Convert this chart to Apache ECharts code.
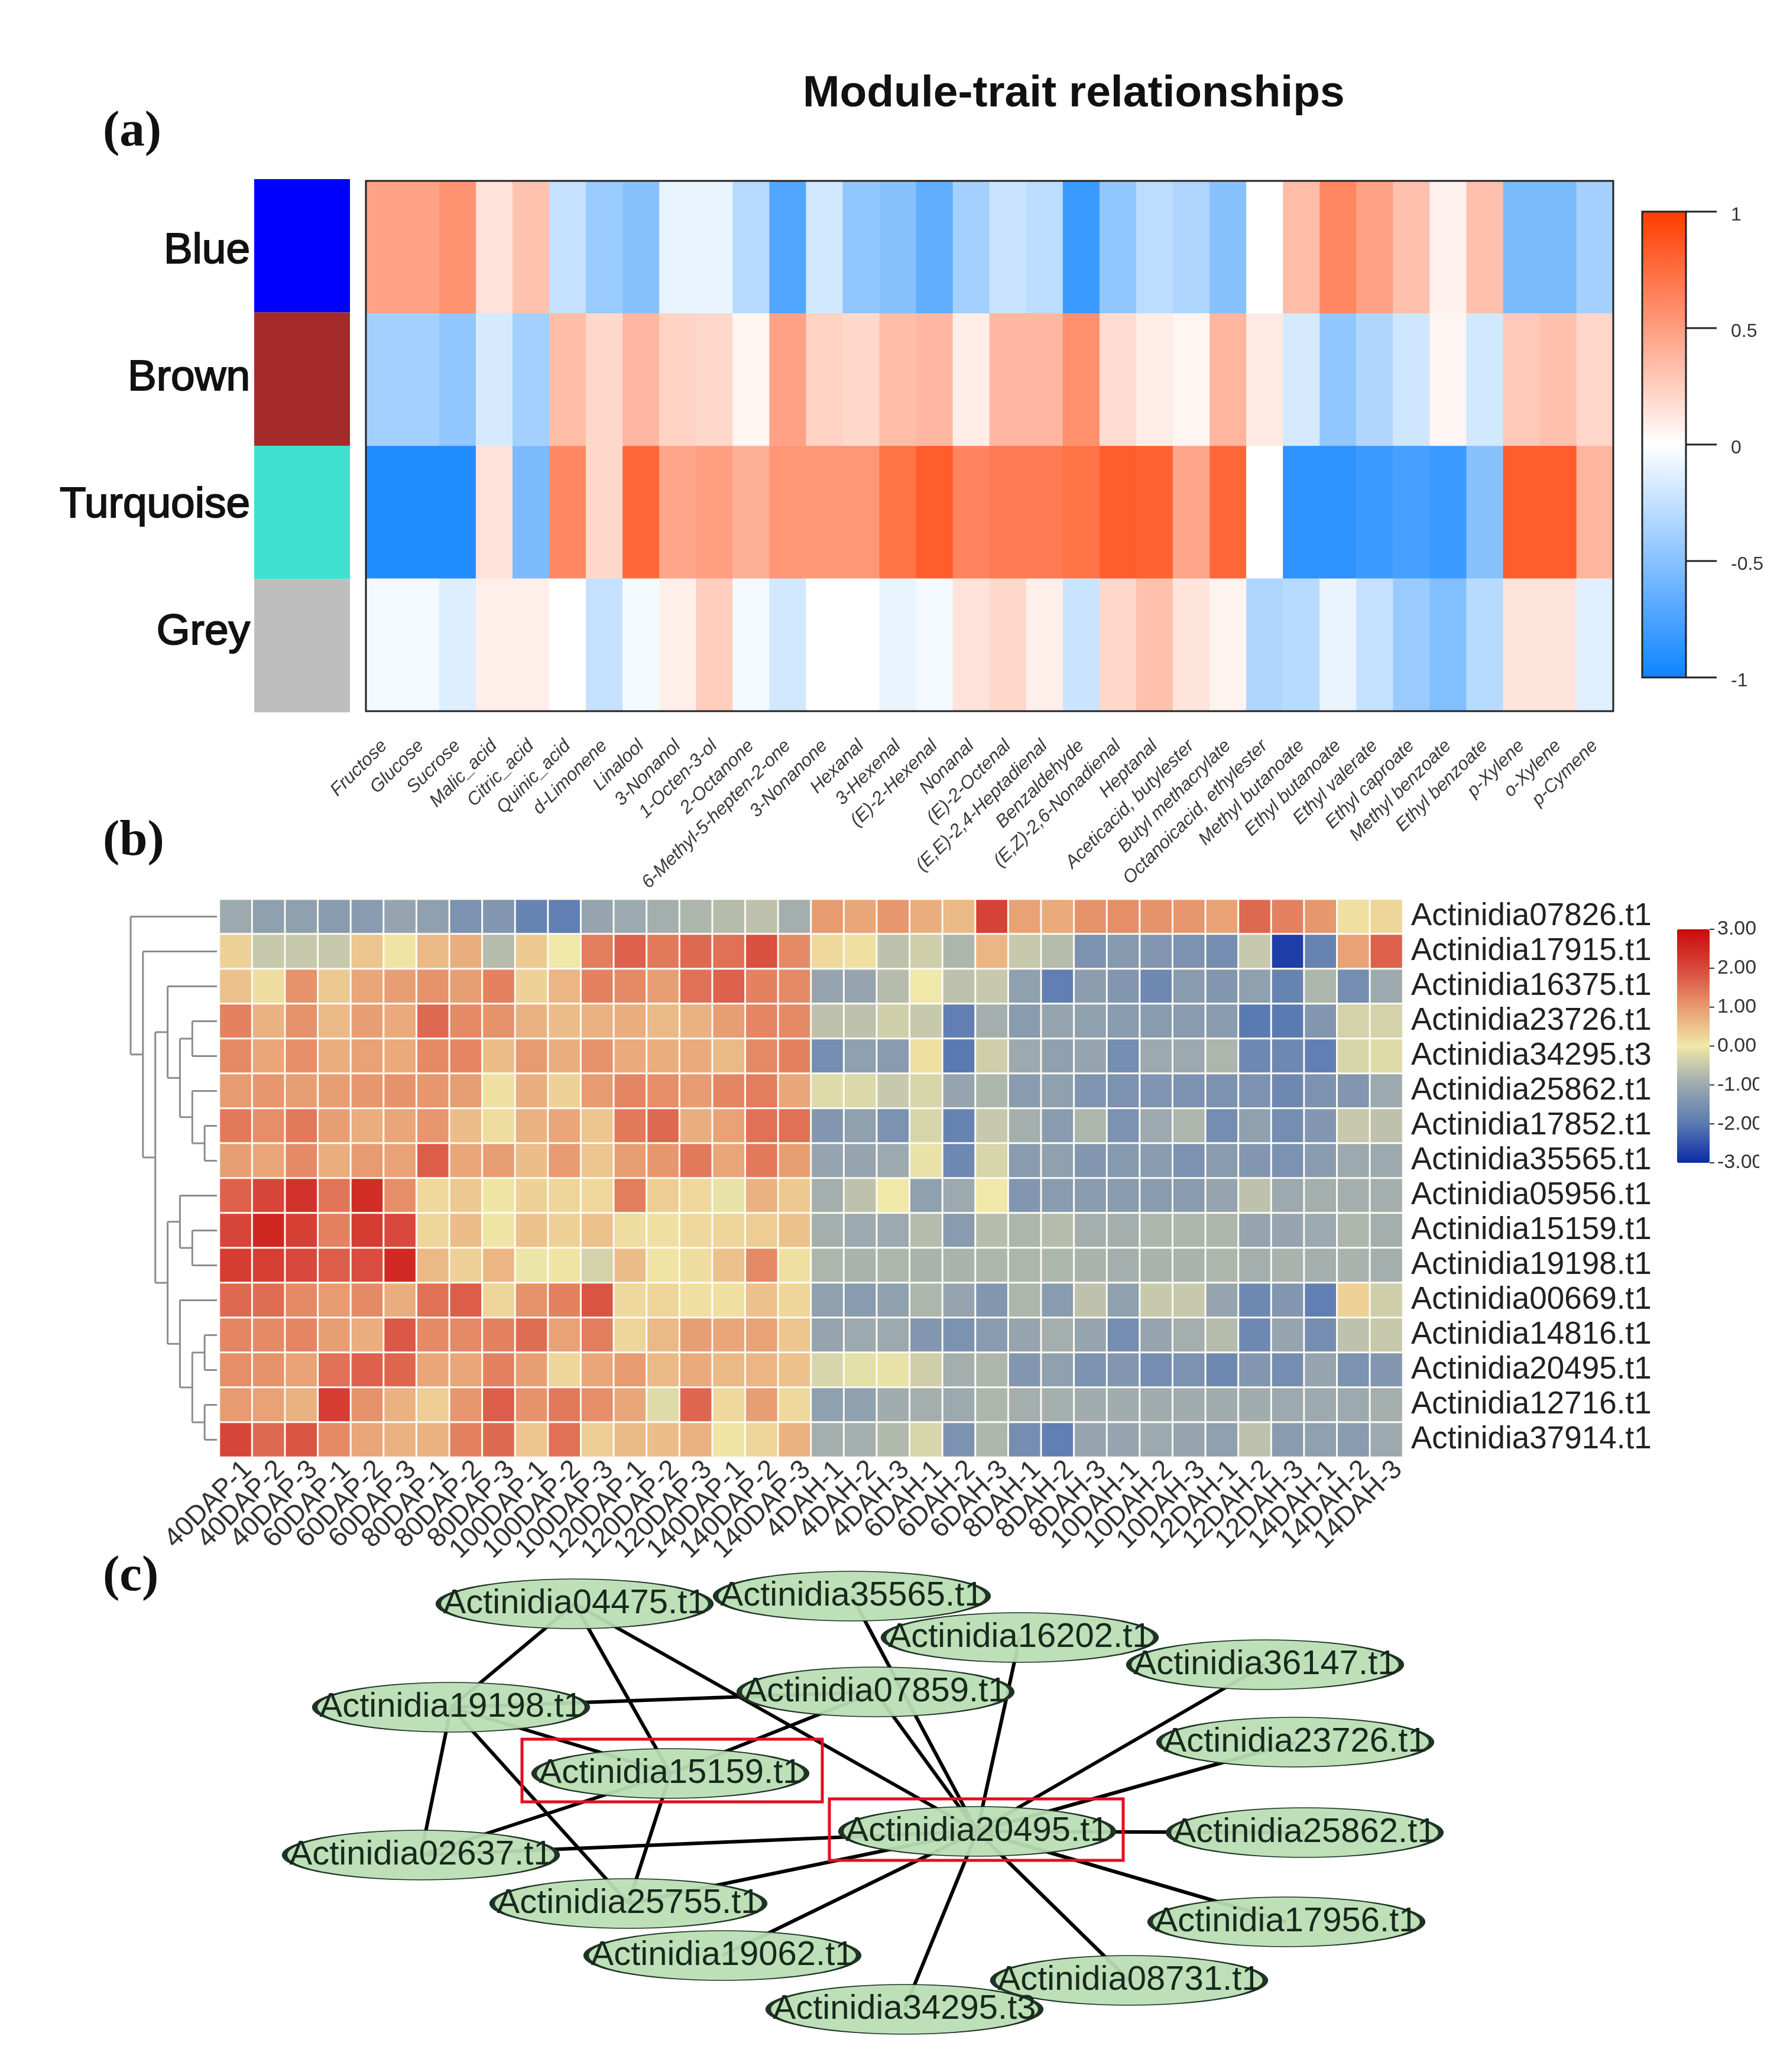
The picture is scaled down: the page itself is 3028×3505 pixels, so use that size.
<!DOCTYPE html>
<html>
<head>
<meta charset="utf-8">
<title>Module-trait relationships</title>
<script src="https://cdn.jsdelivr.net/npm/echarts@6/dist/echarts.min.js"></script>
<style>html,body{margin:0;padding:0;background:#fff}#c{width:3028px;height:3505px}</style>
</head>
<body>
<div id="c"></div>
<script>
// ---------- Panel (a) data ----------
const traits = ["Fructose","Glucose","Sucrose","Malic_acid","Citric_acid","Quinic_acid","d-Limonene","Linalool","3-Nonanol","1-Octen-3-ol","2-Octanone","6-Methyl-5-hepten-2-one","3-Nonanone","Hexanal","3-Hexenal","(E)-2-Hexenal","Nonanal","(E)-2-Octenal","(E,E)-2,4-Heptadienal","Benzaldehyde","(E,Z)-2,6-Nonadienal","Heptanal","Aceticacid, butylester","Butyl methacrylate","Octanoicacid, ethylester","Methyl butanoate","Ethyl butanoate","Ethyl valerate","Ethyl caproate","Methyl benzoate","Ethyl benzoate","p-Xylene","o-Xylene","p-Cymene"];
const modules = ["Blue","Brown","Turquoise","Grey"];
const moduleColors = ["#0000ff","#a52a2a","#40e0d0","#bebebe"];
const blueRow = [0.48,0.48,0.56,0.15,0.31,-0.24,-0.42,-0.5,-0.09,-0.09,-0.3,-0.72,-0.19,-0.46,-0.5,-0.66,-0.38,-0.22,-0.28,-0.82,-0.46,-0.28,-0.33,-0.5,0,0.34,0.62,0.48,0.32,0.07,0.32,-0.55,-0.55,-0.38];
const brownRow = [-0.38,-0.38,-0.46,-0.17,-0.38,0.34,0.2,0.37,0.23,0.2,0.05,0.48,0.23,0.2,0.34,0.37,0.09,0.37,0.37,0.57,0.18,0.09,0.05,0.38,0.11,-0.17,-0.46,-0.33,-0.2,0.05,-0.19,0.28,0.32,0.21];
const turquoiseRow = [-0.93,-0.93,-0.93,0.15,-0.55,0.61,0.2,0.78,0.46,0.49,0.41,0.54,0.54,0.54,0.72,0.83,0.63,0.68,0.68,0.72,0.83,0.8,0.46,0.78,0,-0.88,-0.88,-0.82,-0.77,-0.82,-0.5,0.83,0.83,0.38];
const greyRow = [-0.05,-0.05,-0.14,0.08,0.08,0,-0.24,-0.04,0.08,0.25,-0.05,-0.19,0,0,-0.09,-0.05,0.15,0.2,0.08,-0.22,0.2,0.32,0.14,0.06,-0.33,-0.3,-0.09,-0.24,-0.42,-0.52,-0.3,0.14,0.14,-0.13];
const traitMatrix = [blueRow, brownRow, turquoiseRow, greyRow];

// ---------- Panel (b) data ----------
const samples = ["40DAP-1","40DAP-2","40DAP-3","60DAP-1","60DAP-2","60DAP-3","80DAP-1","80DAP-2","80DAP-3","100DAP-1","100DAP-2","100DAP-3","120DAP-1","120DAP-2","120DAP-3","140DAP-1","140DAP-2","140DAP-3","4DAH-1","4DAH-2","4DAH-3","6DAH-1","6DAH-2","6DAH-3","8DAH-1","8DAH-2","8DAH-3","10DAH-1","10DAH-2","10DAH-3","12DAH-1","12DAH-2","12DAH-3","14DAH-1","14DAH-2","14DAH-3"];
const genes = ["Actinidia07826.t1","Actinidia17915.t1","Actinidia16375.t1","Actinidia23726.t1","Actinidia34295.t3","Actinidia25862.t1","Actinidia17852.t1","Actinidia35565.t1","Actinidia05956.t1","Actinidia15159.t1","Actinidia19198.t1","Actinidia00669.t1","Actinidia14816.t1","Actinidia20495.t1","Actinidia12716.t1","Actinidia37914.t1"];
const expression = [
[-1.0,-1.2,-1.2,-1.3,-1.3,-1.1,-1.2,-1.5,-1.4,-1.8,-1.9,-1.1,-1.0,-0.9,-0.8,-0.7,-0.6,-0.9, 1.0,0.85,1.05,0.75,0.6,2.1,0.9,0.8,1.1,1.15,1.1,1.05,0.9,1.6,1.3,1.05,0.1,0.25],
[0.3,-0.5,-0.5,-0.5,0.45,0.05,0.6,0.75,-0.7,0.4,0,1.35,1.7,1.4,1.6,1.5,1.9,1.2, 0.2,0.1,-0.6,-0.4,-0.8,0.65,-0.5,-0.7,-1.5,-1.35,-1.4,-1.5,-1.6,-0.5,-2.75,-1.8,0.9,1.7],
[0.5,0.15,1.1,0.4,0.85,0.95,1.1,0.95,1.3,0.3,0.65,1.3,1.2,0.95,1.5,1.7,1.3,1.2, -1.1,-1.1,-0.7,0,-0.6,-0.5,-1.2,-1.9,-1.25,-1.4,-1.7,-1.3,-1.4,-1.2,-1.8,-0.8,-1.6,-1],
[1.3,0.7,1.1,0.6,0.95,0.8,1.6,1.2,1.1,0.7,0.55,0.7,0.75,0.6,0.7,0.95,1.25,1.2, -0.6,-0.6,-0.4,-0.5,-1.9,-0.9,-1.3,-1.1,-1.2,-1.3,-1.3,-1.3,-1.3,-2.0,-2.0,-1.4,-0.35,-0.35],
[1.2,0.85,1.15,0.75,0.9,0.8,1.2,1.25,0.55,1.0,0.75,1.1,0.8,0.75,0.8,0.6,1.2,1.3, -1.6,-1.2,-1.3,0.1,-2.0,-0.4,-1.0,-1.2,-1.1,-1.6,-1.0,-1,-0.8,-1.7,-1.7,-1.9,-0.3,-0.2],
[1.0,1.05,0.95,0.95,1.05,1.1,1.05,0.95,0.1,0.75,0.3,1.0,1.25,1.15,1.0,1.25,1.35,0.85, -0.2,-0.25,-0.5,-0.3,-1.1,-0.8,-1.3,-1.2,-1.45,-1.5,-1.45,-1.5,-1.5,-1.5,-1.7,-1.5,-1.4,-1],
[1.4,1.15,1.4,0.95,0.75,0.85,1.05,0.55,0.15,0.7,0.85,0.45,1.4,1.6,0.75,0.9,1.5,1.5, -1.4,-1.2,-1.5,-0.3,-1.8,-0.5,-0.9,-1.3,-0.8,-1.5,-1,-0.8,-1.6,-1.2,-1.6,-1.4,-0.5,-0.6],
[0.95,0.85,1.2,0.75,1.0,0.9,1.75,0.85,0.95,0.55,1.0,0.45,0.95,1.05,1.4,0.85,1.4,0.95, -1.1,-1.1,-1,-0.1,-1.7,-0.3,-1.3,-1.2,-1.4,-1.35,-1.3,-1.5,-1.3,-1.4,-1.5,-1.3,-1,-1],
[1.7,2.05,2.35,1.45,2.45,1.15,0.2,0.4,0.05,0.3,0.25,0.2,1.35,0.35,0.2,-0.1,0.7,0.4, -0.9,-0.6,0,-1.2,-1,0,-1.4,-1.3,-1.3,-1.3,-1.3,-1.3,-1.1,-0.6,-1.0,-0.9,-0.9,-0.9],
[2.05,2.55,2.15,1.3,2.2,2.0,0.25,0.55,0.05,0.5,0.3,0.5,0.15,0.1,0.2,0.25,0.35,0.5, -0.9,-1.0,-1.0,-0.7,-1.3,-0.7,-0.8,-0.7,-0.9,-0.9,-0.8,-0.8,-0.8,-1.1,-1.1,-1,-0.8,-0.9],
[2.2,2.15,2.0,1.75,1.95,2.5,0.6,0.3,0.65,-0.05,0.05,-0.35,0.55,0.05,0.15,0.5,1.2,0.1, -0.8,-0.85,-0.8,-0.85,-0.85,-0.8,-0.8,-0.8,-0.85,-0.9,-0.85,-0.85,-0.8,-0.9,-0.85,-0.9,-0.85,-0.9],
[1.6,1.55,1.2,1.0,1.2,0.75,1.5,1.75,0.25,1.1,1.3,1.85,0.2,0.25,0.1,0.1,0.5,0.25, -1.2,-1.3,-1.2,-0.8,-1.1,-1.4,-0.8,-1.3,-0.6,-1.2,-0.5,-0.5,-1.1,-1.7,-1.4,-1.9,0.3,-0.4],
[1.25,1.2,1.25,0.95,0.75,1.8,1.2,1.2,1.3,1.55,0.9,1.35,0.25,0.6,0.95,0.85,0.9,0.45, -1.1,-1.0,-1,-1.4,-1.5,-1.3,-1.1,-0.9,-1.1,-1.6,-1.1,-0.9,-0.7,-1.7,-1.1,-1.6,-0.6,-0.5],
[1.15,1.1,0.9,1.5,1.7,1.65,0.85,0.85,1.3,0.95,0.25,0.85,1.0,0.6,0.8,0.6,0.65,0.5, -0.3,-0.15,-0.1,-0.4,-0.9,-0.8,-1.4,-1.2,-1.5,-1.4,-1.6,-1.5,-1.7,-1.4,-1.6,-1.1,-1.5,-1.4],
[1.0,0.9,0.7,2.2,1.1,0.7,0.35,1.05,1.75,1.1,1.4,1.15,0.85,-0.2,1.65,0.2,0.95,0.2, -1.2,-1.2,-0.95,-0.9,-1,-0.8,-0.9,-0.9,-0.95,-0.95,-0.95,-0.95,-0.95,-0.95,-1,-1,-1,-0.9],
[2.05,1.6,1.85,1.2,0.85,0.7,0.7,1.3,1.6,0.45,1.5,0.35,0.6,0.55,0.7,0.05,0.25,0.7, -0.9,-0.9,-0.75,-0.3,-1.5,-0.8,-1.6,-1.9,-1.1,-1.1,-1.0,-1.1,-1.2,-0.6,-1.3,-1.2,-1.3,-1.0]
];
// dendrogram: [level, childA, childB], a bare number is a gene row
const dendrogram = [7,0,[6,1,[5,[4,2,[3,[2,3,4],[2,5,[1,6,7]]]],[4,[3,8,[2,9,10]],[3,11,[2,[1,12,13],[1,14,15]]]]]]];

// ---------- Panel (c) data ----------
const nodeNames = ["Actinidia04475.t1","Actinidia35565.t1","Actinidia16202.t1","Actinidia36147.t1","Actinidia19198.t1","Actinidia07859.t1","Actinidia15159.t1","Actinidia23726.t1","Actinidia20495.t1","Actinidia25862.t1","Actinidia02637.t1","Actinidia25755.t1","Actinidia17956.t1","Actinidia19062.t1","Actinidia08731.t1","Actinidia34295.t3"];
const nodeX = [972,1441,1725,2140,763,1481,1134,2191,1653,2207,712,1063,2176,1222,1910,1530];
const nodeY = [2713,2700,2770,2816,2888,2862,3000,2947,3098,3100,3138,3220,3251,3308,3350,3399];
const edgePairs = [["04475","19198"],["04475","15159"],["04475","20495"],["19198","07859"],["19198","15159"],["19198","02637"],["19198","25755"],["07859","15159"],["07859","20495"],["35565","20495"],["16202","20495"],["36147","20495"],["23726","20495"],["25862","20495"],["17956","20495"],["08731","20495"],["34295","20495"],["19062","20495"],["25755","20495"],["02637","20495"],["02637","15159"],["15159","25755"]];
const highlightBoxes = [[883,2942,1391,3048],[1403,3043,1900,3147]];

// ---------- Colours and colour-bar ticks ----------
const exprColors = ['#0a2aa5','#5a7ab2','#9ca9ae','#f0e8a8','#e89a70','#d8483c','#c80a0a'];
const traitColors = ['#0f84ff','#ffffff','#ff3c00'];
const traitTicks = [-1,-0.5,0,0.5,1];
const exprTicks = [-3,-2,-1,0,1,2,3];

// ---------- Helpers ----------
const FONT = '"Liberation Sans", Arial, sans-serif';
const matrixToCells = m => m.flatMap((row, r) => row.map((v, c) => [c, r, v]));
const fullName = id => nodeNames.find(n => n.includes(id));
function dendroSegments(tree) {
  const segs = [];
  (function walk(n) {
    if (typeof n === 'number') return {pos: n, level: 0};
    const a = walk(n[1]), b = walk(n[2]), lv = n[0];
    segs.push([lv, a.pos, lv, b.pos], [lv, a.pos, a.level, a.pos], [lv, b.pos, b.level, b.pos]);
    return {pos: (a.pos + b.pos) / 2, level: lv};
  })(tree);
  return segs;
}
const hide = {axisLine:{show:false},axisTick:{show:false},axisLabel:{show:false},splitLine:{show:false}};
const letter = (text, top) => ({text, left:174, top, padding:0, textStyle:{fontFamily:'"Liberation Serif",serif',fontSize:85,fontWeight:'bold',color:'#111'}});
const tickSeries = (axisIdx, ticks, tickLen, color, width) => ({
  type:'custom', xAxisIndex:axisIdx, yAxisIndex:axisIdx, silent:true, clip:false, z:7,
  data:ticks.map(v=>[1,v]), encode:{x:0,y:1},
  renderItem:(p,api)=>{const a=api.coord([1,api.value(1)]);
    return {type:'line',shape:{x1:a[0],y1:a[1],x2:a[0]+tickLen,y2:a[1]},style:{stroke:color,lineWidth:width,fill:null}};}
});

const option = {
  animation: false,
  backgroundColor: '#fff',
  title: [
    {text:'Module-trait relationships', left:1358, top:122, padding:0, textStyle:{fontFamily:FONT,fontSize:75,fontWeight:'bold',color:'#111'}},
    letter('(a)',182), letter('(b)',1382), letter('(c)',2626)
  ],
  grid: [
    {left:619, top:306, width:2110, height:897, show:true, z:3, borderColor:'#222', borderWidth:3, backgroundColor:'transparent', outerBoundsMode:'none'},
    {left:430, top:303, width:162, height:902, outerBoundsMode:'none'},
    {left:430, top:317, width:10, height:860, outerBoundsMode:'none'},
    {left:2778, top:358, width:74, height:788, show:true, z:6, borderColor:'#222', borderWidth:3, backgroundColor:'transparent', outerBoundsMode:'none'},
    {left:371, top:1521, width:2002, height:944, outerBoundsMode:'none'},
    {left:221, top:1521, width:146, height:944, outerBoundsMode:'none'},
    {left:2837, top:1572, width:55, height:395, outerBoundsMode:'none'},
    {left:0, top:2600, width:3028, height:905, outerBoundsMode:'none'},
    {left:2778, top:364, width:74, height:788, outerBoundsMode:'none'},
    {left:391, top:1521, width:2002, height:944, outerBoundsMode:'none'}
  ],
  xAxis: [
    {gridIndex:0, type:'category', data:traits, ...hide, axisLabel:{show:true, interval:0, rotate:45, margin:54, fontFamily:FONT, fontSize:31, fontStyle:'italic', color:'#3a3a3a'}},
    {gridIndex:1, type:'value', min:0, max:1, ...hide},
    {gridIndex:2, type:'value', min:0, max:1, ...hide},
    {gridIndex:3, type:'value', min:0, max:1, ...hide},
    {gridIndex:4, type:'category', data:samples, ...hide},
    {gridIndex:5, type:'value', min:0, max:7, inverse:true, ...hide},
    {gridIndex:6, type:'value', min:0, max:1, ...hide},
    {gridIndex:7, type:'value', min:0, max:3028, ...hide},
    {gridIndex:8, type:'value', min:0, max:1, ...hide},
    {gridIndex:9, type:'category', data:samples, ...hide, axisLabel:{show:true, interval:0, rotate:45, margin:14, fontFamily:FONT, fontSize:46, color:'#333'}}
  ],
  yAxis: [
    {gridIndex:0, type:'category', data:modules, inverse:true, ...hide},
    {gridIndex:1, type:'category', data:modules, inverse:true, ...hide},
    {gridIndex:2, type:'category', data:modules, inverse:true, ...hide, axisLabel:{show:true, margin:7, fontFamily:FONT, fontSize:73, color:'#111', textBorderColor:'#111', textBorderWidth:2}},
    {gridIndex:3, type:'value', min:-1, max:1, interval:0.5, ...hide},
    {gridIndex:4, type:'category', data:genes, inverse:true, position:'right', ...hide, axisLabel:{show:true, interval:0, margin:14, fontFamily:FONT, fontSize:53, color:'#222'}},
    {gridIndex:5, type:'value', min:-0.5, max:15.5, inverse:true, ...hide},
    {gridIndex:6, type:'value', position:'right', min:-3, max:3, interval:1, ...hide,
      axisLabel:{show:true, margin:13, fontFamily:FONT, fontSize:34, color:'#333', formatter:v=>v.toFixed(2)}},
    {gridIndex:7, type:'value', min:2600, max:3505, inverse:true, ...hide},
    {gridIndex:8, type:'value', position:'right', min:-1, max:1, interval:0.5, ...hide, axisLabel:{show:true, margin:76, fontFamily:FONT, fontSize:32, color:'#333'}},
    {gridIndex:9, type:'category', data:genes, inverse:true, ...hide}
  ],
  visualMap: [
    {type:'continuous', seriesIndex:0, dimension:2, min:-1, max:1, calculable:false, left:2778, top:358, itemWidth:74, itemHeight:788, padding:0, text:null, inRange:{color:traitColors}, textStyle:{fontSize:1,color:'transparent'}},
    {type:'continuous', seriesIndex:2, dimension:2, min:-3, max:3, calculable:false, left:2837, top:1572, itemWidth:55, itemHeight:395, padding:0, text:null, inRange:{color:exprColors}, textStyle:{fontSize:1,color:'transparent'}}
  ],
  graphic: [
    {type:'rect', z:100, shape:{x:2976,y:1540,width:52,height:450}, style:{fill:'#fff'}}
  ],
  series: [
    {type:'heatmap', xAxisIndex:0, yAxisIndex:0, data:matrixToCells(traitMatrix), itemStyle:{borderWidth:0}, progressive:0},
    {type:'bar', xAxisIndex:1, yAxisIndex:1, barWidth:'100%', silent:true,
      data:moduleColors.map(c=>({value:1,itemStyle:{color:c}}))},
    {type:'heatmap', xAxisIndex:4, yAxisIndex:4, data:matrixToCells(expression), itemStyle:{borderColor:'#fdfbf4',borderWidth:3}, progressive:0},
    {type:'custom', xAxisIndex:5, yAxisIndex:5, silent:true, clip:false, data:dendroSegments(dendrogram), encode:{x:[0,2],y:[1,3]},
      renderItem:(p,api)=>{const a=api.coord([api.value(0),api.value(1)]),b=api.coord([api.value(2),api.value(3)]);
        return {type:'line',shape:{x1:a[0],y1:a[1],x2:b[0],y2:b[1]},style:{stroke:'#8c8c8c',lineWidth:3,fill:null}};}},
    {type:'graph', coordinateSystem:'cartesian2d', xAxisIndex:7, yAxisIndex:7, layout:'none', roam:false, silent:true,
      symbol:'circle', symbolSize:[461,84],
      itemStyle:{color:'rgba(186,222,181,0.94)',borderColor:'#1f3325',borderWidth:4,opacity:1},
      label:{show:true,position:'inside',formatter:'{b}',fontFamily:FONT,fontSize:58,color:'#17281c'},
      lineStyle:{color:'#000',width:6,opacity:1,curveness:0},
      data:nodeNames.map((n,i)=>({name:n,value:[nodeX[i],nodeY[i]]})),
      links:edgePairs.map(([a,b])=>({source:fullName(a),target:fullName(b)}))},
    {type:'custom', xAxisIndex:7, yAxisIndex:7, silent:true, clip:false, z:4, data:highlightBoxes, encode:{x:[0,2],y:[1,3]},
      renderItem:(p,api)=>{const a=api.coord([api.value(0),api.value(1)]),b=api.coord([api.value(2),api.value(3)]);
        return {type:'rect',shape:{x:a[0],y:a[1],width:b[0]-a[0],height:b[1]-a[1]},style:{fill:'none',stroke:'#e2101e',lineWidth:5}};}},
    tickSeries(3, traitTicks, 52, '#222', 3),
    tickSeries(6, exprTicks, 8, '#333', 2)
  ]
};
const chart = echarts.init(document.getElementById('c'), null, {renderer:'canvas', width:3028, height:3505});
chart.setOption(option);
</script>
</body>
</html>
